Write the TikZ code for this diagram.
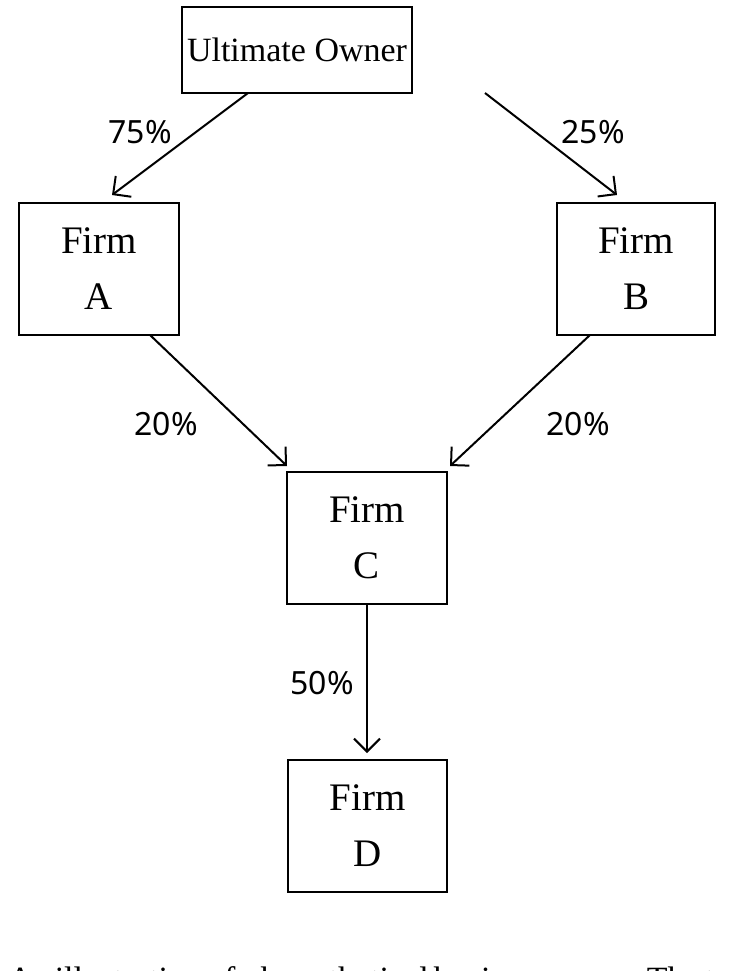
\documentclass[tikz,border=0pt]{standalone}
\usepackage{fontspec}
\setmainfont{Liberation Serif}
\newfontfamily\pctfont{Noto Sans}
\usetikzlibrary{arrows.meta}
\begin{document}
\begin{tikzpicture}[x=1pt,y=-1pt,
  box/.style={draw,line width=2pt,inner sep=0pt,align=center,font=\fontsize{39}{56}\selectfont},
  arr/.style={line width=2pt,-{Straight Barb[length=13pt,width=26pt,line width=2pt]}},
  pct/.style={font=\pctfont\fontsize{32}{36}\selectfont}]
\useasboundingbox (0,0) rectangle (733,971);
\clip (0,0) rectangle (733,971);
\node[box,minimum width=230pt,minimum height=86pt,font=\fontsize{34}{40}\selectfont] (uo) at (297,50) {Ultimate Owner};
\node[box,minimum width=160pt,minimum height=132pt] (a) at (99,269) {Firm\\A};
\node[box,minimum width=158pt,minimum height=132pt] (b) at (636,269) {Firm\\B};
\node[box,minimum width=160pt,minimum height=132pt] (c) at (367,538) {Firm\\C};
\node[box,minimum width=159pt,minimum height=132pt] (d) at (367.5,826) {Firm\\D};
\coordinate (ua) at (248,93); \coordinate (at) at (112,195);
\coordinate (ub) at (485,93); \coordinate (bt) at (617,195);
\coordinate (ab) at (150,335); \coordinate (ca) at (287,466);
\coordinate (bb) at (590,335); \coordinate (cb) at (450,466);
\coordinate (cd) at (367,604); \coordinate (dt) at (367,753);
\draw[arr] (ua) -- (at);
\draw[arr] (ub) -- (bt);
\draw[arr] (ab) -- (ca);
\draw[arr] (bb) -- (cb);
\draw[arr] (cd) -- (dt);
\node[pct] (l1) at (140,132) {75\%};
\node[pct] (l2) at (593,132) {25\%};
\node[pct] (l3) at (166,424) {20\%};
\node[pct] (l4) at (578,424) {20\%};
\node[pct] (l5) at (322,683) {50\%};
\node[anchor=base west,inner sep=0pt,font=\fontsize{34}{36}\selectfont] (cap) at (8,990) {\hbox to 740pt{An\hfil illustration\hfil of\hfil a\hfil hypothetical\hfil business\hfil group.\hfil The\hfil top}};
\end{tikzpicture}
\end{document}
